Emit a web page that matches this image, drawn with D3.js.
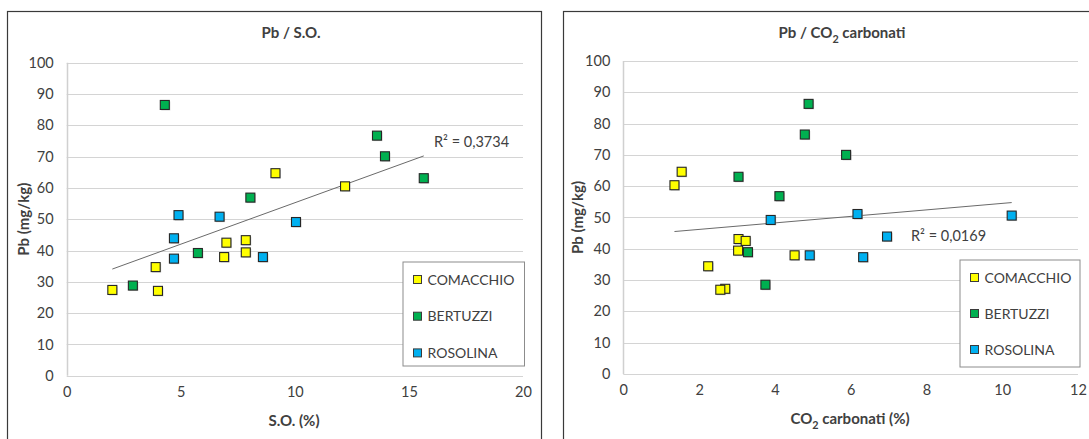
<!DOCTYPE html>
<html>
<head>
<meta charset="utf-8">
<script src="https://cdn.jsdelivr.net/npm/d3@7"></script>
<style>
  body { margin: 0; background: #fff; }
  svg { display: block; }
  text { font-family: Lato, "Liberation Sans", sans-serif; }
</style>
</head>
<body>
<svg id="chart" width="1089" height="439"></svg>
<script>
// Sites (series) and their marker colours
const seriesNames = ["COMACCHIO", "BERTUZZI", "ROSOLINA"];
const seriesColors = ["#ffff00", "#00b050", "#00b0f0"];

// Pb vs organic matter (S.O. %)
const soComacchio   = [2.0, 3.9, 4.0, 6.9, 7.0, 7.85, 7.85, 9.15, 12.2];
const pbSoComacchio = [27.4, 34.7, 27.1, 37.9, 42.5, 39.4, 43.3, 64.7, 60.5];
const soBertuzzi    = [2.9, 4.3, 5.75, 8.05, 13.6, 13.95, 15.65];
const pbSoBertuzzi  = [28.8, 86.5, 39.2, 56.9, 76.7, 70.1, 63.1];
const soRosolina    = [4.7, 4.7, 4.9, 6.7, 8.6, 10.05];
const pbSoRosolina  = [43.9, 37.4, 51.3, 50.8, 37.9, 49.1];

// Pb vs carbonate CO2 (%)
const co2Comacchio   = [1.35, 1.54, 3.04, 3.23, 3.03, 4.52, 2.24, 2.69, 2.56];
const pbCo2Comacchio = [60.3, 64.6, 43.1, 42.5, 39.4, 37.9, 34.4, 27.2, 26.9];
const co2Bertuzzi    = [4.89, 4.79, 5.88, 3.04, 4.12, 3.29, 3.75];
const pbCo2Bertuzzi  = [86.3, 76.5, 70.0, 63.0, 56.8, 38.9, 28.5];
const co2Rosolina    = [3.89, 4.92, 6.18, 10.25, 6.96, 6.33];
const pbCo2Rosolina  = [49.2, 37.9, 51.1, 50.6, 43.9, 37.3];

// Axis ticks and annotations
const pbTicks  = [0, 10, 20, 30, 40, 50, 60, 70, 80, 90, 100];
const soTicks  = [0, 5, 10, 15, 20];
const co2Ticks = [0, 2, 4, 6, 8, 10, 12];
const r2So  = "R² = 0,3734";
const r2Co2 = "R² = 0,0169";

const svg = d3.select("#chart");
const textColor = "#404040";
const fontStack = "Lato, 'Liberation Sans', sans-serif";

function zip(xs, ys) { return xs.map((x, i) => ({ x, y: ys[i] })); }

// Least-squares line through all points of a panel
function linearFit(points) {
  const mx = d3.mean(points, d => d.x), my = d3.mean(points, d => d.y);
  const sxy = d3.sum(points, d => (d.x - mx) * (d.y - my));
  const sxx = d3.sum(points, d => (d.x - mx) ** 2);
  const slope = sxy / sxx;
  return { slope, intercept: my - slope * mx };
}

// Writes text that may contain a subscript (the "2" of CO2)
function richText(sel, parts, size) {
  const shift = size * 0.3;
  let cur = 0;
  parts.forEach(p => {
    const target = p.sub ? shift : 0;
    const t = sel.append("tspan").attr("dy", target - cur).text(p.t);
    if (p.sub) t.attr("font-size", size * 0.72);
    cur = target;
  });
}

function drawPanel(cfg) {
  const g = svg.append("g");

  // chart frame
  g.append("rect")
    .attr("x", cfg.frame.x).attr("y", cfg.frame.y)
    .attr("width", cfg.frame.w).attr("height", cfg.frame.h)
    .attr("fill", "#fff").attr("stroke", "#3a3a3a").attr("stroke-width", 1.2);

  const x = d3.scaleLinear().domain(cfg.xDomain).range([cfg.plot.left, cfg.plot.right]);
  const y = d3.scaleLinear().domain([0, 100]).range([cfg.plot.bottom, cfg.plot.top]);

  // horizontal gridlines
  g.append("g").selectAll("line").data(pbTicks).join("line")
    .attr("x1", cfg.plot.left).attr("x2", cfg.plot.right)
    .attr("y1", d => Math.round(y(d)) + 0.5).attr("y2", d => Math.round(y(d)) + 0.5)
    .attr("stroke", "#d4d4d4").attr("stroke-width", 1);

  // vertical axis line
  g.append("line")
    .attr("x1", Math.round(cfg.plot.left) + 0.5).attr("x2", Math.round(cfg.plot.left) + 0.5)
    .attr("y1", y(100)).attr("y2", y(0))
    .attr("stroke", "#d0d0d0").attr("stroke-width", 1.5);

  // y tick labels
  const yAxis = d3.axisLeft(y).tickValues(pbTicks).tickSize(0).tickPadding(cfg.yPad);
  const ya = g.append("g").attr("transform", `translate(${cfg.plot.left},0)`).call(yAxis);
  ya.select(".domain").remove();
  ya.selectAll("text").attr("font-size", 14.5).attr("fill", textColor).style("font-family", fontStack);

  // x tick labels
  const xAxis = d3.axisBottom(x).tickValues(cfg.xTicks).tickSize(0).tickPadding(cfg.xPad);
  const xa = g.append("g").attr("transform", `translate(0,${cfg.plot.bottom})`).call(xAxis);
  xa.select(".domain").remove();
  xa.selectAll("text").attr("font-size", 14.5).attr("fill", textColor).style("font-family", fontStack);

  // titles
  richText(g.append("text").attr("x", cfg.titleX).attr("y", cfg.titleY)
    .attr("text-anchor", "middle").attr("font-size", 15).attr("font-weight", "bold")
    .attr("fill", textColor), cfg.title, 15);
  richText(g.append("text").attr("x", cfg.xTitleX).attr("y", cfg.xTitleY)
    .attr("text-anchor", "middle").attr("font-size", 15).attr("font-weight", "bold")
    .attr("fill", textColor), cfg.xTitle, 15);
  g.append("text")
    .attr("transform", `translate(${cfg.yTitleX},${(cfg.plot.top + cfg.plot.bottom) / 2}) rotate(-90)`)
    .attr("text-anchor", "middle").attr("font-size", 15).attr("font-weight", "bold")
    .attr("fill", textColor).text("Pb (mg/kg)");

  // trendline
  const all = cfg.series.flat();
  const fit = linearFit(all);
  const [x0, x1] = d3.extent(all, d => d.x);
  g.append("line")
    .attr("x1", x(x0)).attr("y1", y(fit.intercept + fit.slope * x0))
    .attr("x2", x(x1)).attr("y2", y(fit.intercept + fit.slope * x1))
    .attr("stroke", "#6a6a6a").attr("stroke-width", 1);

  // markers
  const s = 9;
  cfg.series.forEach((pts, i) => {
    g.append("g").selectAll("rect").data(pts).join("rect")
      .attr("x", d => x(d.x) - s / 2 + 1).attr("y", d => y(d.y) - s / 2 + 1)
      .attr("width", s).attr("height", s).attr("fill", "#b0b0b0").attr("opacity", 0.6);
    g.append("g").selectAll("rect").data(pts).join("rect")
      .attr("x", d => x(d.x) - s / 2).attr("y", d => y(d.y) - s / 2)
      .attr("width", s).attr("height", s)
      .attr("fill", seriesColors[i]).attr("stroke", "#262626").attr("stroke-width", 1.1);
  });

  // R² label
  g.append("text").attr("x", cfg.r2.x).attr("y", cfg.r2.y)
    .attr("font-size", 14.5).attr("fill", textColor).text(cfg.r2.text);

  // legend
  const L = cfg.legend;
  g.append("rect").attr("x", L.x + 0.5).attr("y", L.y + 0.5).attr("width", L.w).attr("height", L.h)
    .attr("fill", "#fff").attr("stroke", "#8c8c8c").attr("stroke-width", 1);
  seriesNames.forEach((name, i) => {
    const cy = L.y + L.firstRow + i * L.rowGap;
    g.append("rect").attr("x", L.x + L.markerX - 4).attr("y", cy - 4)
      .attr("width", 8).attr("height", 8)
      .attr("fill", seriesColors[i]).attr("stroke", "#3a3a3a").attr("stroke-width", 1);
    g.append("text").attr("x", L.x + L.textX).attr("y", cy + 5)
      .attr("font-size", 14).attr("fill", textColor).text(name);
  });
}

drawPanel({
  frame: { x: 7.5, y: 11.5, w: 534, h: 440 },
  plot: { left: 66.7, right: 523, top: 62.7, bottom: 375.7 },
  xDomain: [0, 20], xTicks: soTicks, yPad: 13, xPad: 11,
  title: [{ t: "Pb / S.O." }], titleX: 291, titleY: 38,
  xTitle: [{ t: "S.O. (%)" }], xTitleX: 294, xTitleY: 426,
  yTitleX: 29,
  series: [zip(soComacchio, pbSoComacchio), zip(soBertuzzi, pbSoBertuzzi), zip(soRosolina, pbSoRosolina)],
  r2: { x: 434, y: 146.5, text: r2So },
  legend: { x: 402.5, y: 261.5, w: 121.5, h: 104, markerX: 15, textX: 25, firstRow: 18, rowGap: 36.7 }
});

drawPanel({
  frame: { x: 563.5, y: 11.5, w: 540, h: 440 },
  plot: { left: 623.3, right: 1078, top: 61, bottom: 373.9 },
  xDomain: [0, 12], xTicks: co2Ticks, yPad: 13, xPad: 11,
  title: [{ t: "Pb / CO" }, { t: "2", sub: true }, { t: " carbonati" }], titleX: 842, titleY: 38,
  xTitle: [{ t: "CO" }, { t: "2", sub: true }, { t: " carbonati (%)" }], xTitleX: 850, xTitleY: 424,
  yTitleX: 583,
  series: [zip(co2Comacchio, pbCo2Comacchio), zip(co2Bertuzzi, pbCo2Bertuzzi), zip(co2Rosolina, pbCo2Rosolina)],
  r2: { x: 911, y: 241, text: r2Co2 },
  legend: { x: 959.5, y: 259.5, w: 120, h: 107, markerX: 15, textX: 25, firstRow: 18, rowGap: 36 }
});
</script>
</body>
</html>
